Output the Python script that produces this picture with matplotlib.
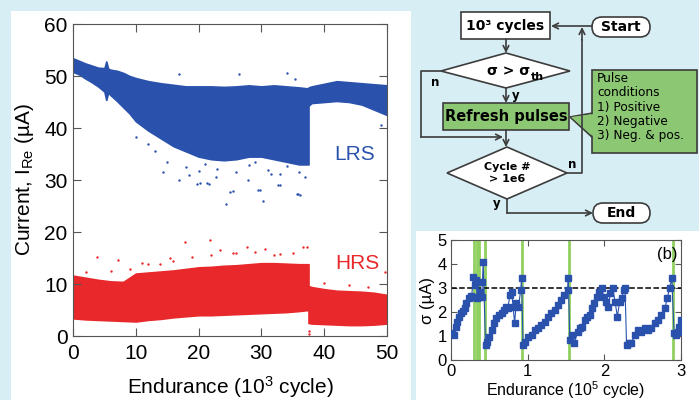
import matplotlib.pyplot as plt
from matplotlib.patches import Rectangle, Polygon, FancyBboxPatch

plt.rcParams['font.family'] = ['Liberation Sans', 'DejaVu Sans']
plt.rcParams['mathtext.default'] = 'regular'

# --- panel (a): LRS / HRS endurance band
lrs_x1 = [0, 1, 2, 3, 4, 5, 5.3, 5.6, 6, 7, 8, 9, 10, 12, 14, 16, 18, 20, 22, 24, 26, 28, 30, 32, 34, 36, 37.5]
lrs_hi1 = [53.4, 52.9, 52.4, 52.0, 51.6, 51.5, 52.8, 51.4, 51.2, 51.0, 50.6, 50.0, 49.6, 49.0, 48.6, 48.3, 48.0,
           48.0, 48.0, 47.9, 48.0, 48.2, 48.0, 48.2, 48.0, 47.8, 47.6]
lrs_lo1 = [50.8, 50.3, 49.5, 48.8, 48.0, 47.0, 45.4, 46.8, 46.3, 45.2, 44.0, 42.8, 41.3, 39.5, 38.0, 36.5, 35.5,
           34.5, 34.0, 33.8, 34.0, 34.5, 34.5, 34.0, 33.5, 33.0, 33.0]
lrs_x2 = [37.5, 38, 40, 42, 44, 46, 48, 50]
lrs_hi2 = [47.8, 48.0, 48.5, 49.0, 48.8, 48.6, 48.4, 48.2]
lrs_lo2 = [44.3, 44.8, 45.0, 45.2, 45.0, 44.5, 43.5, 42.5]

hrs_x1 = [0, 2, 4, 6, 8, 10, 12, 14, 16, 18, 20, 22, 24, 26, 28, 30, 32, 34, 36, 37.5]
hrs_hi1 = [11.6, 11.2, 10.8, 10.5, 10.4, 12.0, 12.2, 12.4, 12.6, 12.9, 13.2, 13.3, 13.5, 13.6, 13.8, 14.0, 14.0,
           13.9, 13.8, 13.8]
hrs_lo1 = [3.4, 3.2, 3.1, 3.0, 2.9, 2.8, 3.1, 3.3, 3.6, 3.8, 4.0, 4.0, 4.1, 4.2, 4.3, 4.4, 4.5, 4.6, 4.8, 5.0]
hrs_x2 = [37.5, 38, 40, 42, 44, 46, 48, 50]
hrs_hi2 = [9.6, 9.4, 9.0, 8.7, 8.6, 8.5, 8.3, 7.9]
hrs_lo2 = [2.5, 2.4, 2.3, 2.2, 2.1, 2.1, 2.2, 2.4]

lrs_out_x = [10.1, 14.4, 16.8, 19.7, 21.6, 24.4, 25.0, 25.5, 27.9, 29.5, 29.8, 30.2, 33.0, 32.7, 35.6, 35.9, 36.2,
             16.8, 26.4, 34.0, 35.4, 49.0, 18.5, 20.2, 21.3, 22.8, 31.5,
             18, 20, 23, 26, 28, 31, 33, 36, 37, 15, 13, 12, 21, 29, 34]
lrs_out_y = [38.3, 31.6, 30.0, 29.3, 29.3, 25.3, 27.6, 27.8, 30.0, 28.0, 28.1, 26.0, 29.0, 29.0, 27.4, 27.3, 27.1,
             50.4, 50.4, 50.5, 49.5, 40.5, 31.0, 29.4, 29.4, 30.5, 31.2,
             32.5, 31.8, 32.2, 31.5, 32.8, 32.0, 31.2, 31.5, 30.5, 33.5, 35.5, 37.0, 33.0, 33.5, 32.6]
hrs_out_x = [3.8, 7.2, 17.9, 21.8, 27.7, 30.6, 36.7, 13.9, 23.4, 49.7, 11.0, 15.5, 25.5, 33.0, 37.2, 37.5, 37.5,
             6, 9, 12, 16, 19, 22, 26, 29, 32, 35, 2, 40, 44, 47]
hrs_out_y = [15.2, 14.6, 18.1, 18.5, 17.1, 16.8, 17.1, 13.9, 16.5, 12.3, 14.0, 15.0, 16.0, 15.8, 17.2, 1.0, 0.3,
             12.5, 12.8, 13.8, 14.5, 15.2, 15.5, 16.0, 16.2, 15.6, 15.9, 12.3, 10.2, 9.8, 9.5]

# --- panel (b): sigma vs endurance
sig_x = [0.01, 0.04, 0.06, 0.08, 0.10, 0.13, 0.15, 0.18, 0.20, 0.23, 0.26, 0.27, 0.29, 0.31, 0.33, 0.34, 0.36,
         0.38, 0.40, 0.41, 0.42,
         0.45, 0.47, 0.50, 0.53, 0.56, 0.59, 0.62, 0.66, 0.69, 0.72, 0.74, 0.77, 0.79, 0.81, 0.83, 0.85, 0.88,
         0.91, 0.92,
         0.94, 0.97, 1.00, 1.05, 1.09, 1.13, 1.18, 1.22, 1.27, 1.31, 1.35, 1.40, 1.44, 1.48, 1.52, 1.53,
         1.55, 1.58, 1.61, 1.65, 1.68, 1.71, 1.75, 1.78, 1.81, 1.84, 1.87, 1.90, 1.93, 1.97, 1.99, 2.02, 2.05,
         2.08, 2.11, 2.14, 2.17, 2.20, 2.23, 2.25, 2.27,
         2.29, 2.32, 2.35, 2.40, 2.44, 2.48, 2.53, 2.57, 2.61, 2.66, 2.70, 2.74, 2.79, 2.82, 2.85, 2.88,
         2.91, 2.94, 2.96, 2.98, 3.00]
sig_y = [1.11, 1.04, 1.39, 1.57, 1.81, 1.94, 2.04, 2.18, 2.36, 2.57, 2.67, 2.64, 3.47, 3.12, 3.33, 2.57, 2.64,
         2.85, 2.64, 3.26, 4.10,
         0.62, 0.76, 0.97, 1.25, 1.53, 1.74, 1.88, 1.94, 2.08, 2.22, 2.15, 2.71, 2.85, 2.22, 1.53, 2.36, 2.22,
         2.92, 3.40,
         0.62, 0.76, 0.97, 1.04, 1.25, 1.32, 1.46, 1.60, 1.81, 1.94, 2.08, 2.29, 2.50, 2.71, 2.92, 3.40,
         0.83, 1.04, 0.69, 1.18, 1.32, 1.39, 1.67, 1.81, 1.88, 2.15, 2.36, 2.64, 2.85, 2.99, 2.64, 2.43, 2.22,
         2.78, 2.99, 2.43, 1.81, 2.43, 2.57, 2.92, 2.99,
         0.62, 0.69, 0.69, 1.04, 1.25, 1.18, 1.32, 1.25, 1.32, 1.53, 1.67, 1.88, 2.15, 2.57, 2.99, 3.40,
         1.11, 1.04, 1.18, 1.39, 1.67]
refresh_x = [0.30, 0.335, 0.37, 0.44, 0.93, 1.54, 2.90]
sigma_th = 3.0

bg_blue = '#d8eef5'
blue = '#2a52ad'
red = '#e8282a'
green = '#8cc873'
edge = '#3c3c3c'

fig = plt.figure(figsize=(6.99, 4.0), dpi=100)
fig.patch.set_facecolor(bg_blue)

# background layer in pixel coords (y down)
bg = fig.add_axes([0, 0, 1, 1])
bg.set_xlim(0, 699)
bg.set_ylim(400, 0)
bg.axis('off')
bg.set_zorder(-1)
bg.add_patch(Rectangle((11, 11), 400, 389, fc='white', ec='none'))
bg.add_patch(Rectangle((416, 231), 283, 169, fc='white', ec='none'))

# ---------------- flowchart
ff = 'DejaVu Sans'
lw = 1.2


def arrow(x0, y0, x1, y1):
    bg.annotate('', xy=(x1, y1), xytext=(x0, y0),
                arrowprops=dict(arrowstyle='->', lw=lw, color=edge, shrinkA=0, shrinkB=0,
                                mutation_scale=10))


bg.add_patch(Rectangle((461, 12), 89, 27, fc='white', ec=edge, lw=lw))
bg.text(505.5, 26, '10³ cycles', ha='center', va='center', fontsize=10, weight='bold', family=ff)
bg.add_patch(FancyBboxPatch((592, 17), 58, 20, boxstyle='round,pad=0,rounding_size=10',
                            fc='white', ec=edge, lw=lw))
bg.text(621, 27, 'Start', ha='center', va='center', fontsize=10, weight='bold', family=ff)
bg.add_patch(FancyBboxPatch((593, 203), 57, 20, boxstyle='round,pad=0,rounding_size=10',
                            fc='white', ec=edge, lw=lw))
bg.text(621.5, 213, 'End', ha='center', va='center', fontsize=10, weight='bold', family=ff)

bg.add_patch(Polygon([(441, 71), (506, 53), (570, 71), (506, 88)], closed=True, fc='white', ec=edge, lw=lw))
bg.text(509, 71, 'σ > σ', ha='center', va='center', fontsize=10, weight='bold', family=ff)
bg.text(531, 77, 'th', ha='left', va='center', fontsize=8, weight='bold', family=ff)

bg.add_patch(Rectangle((443, 103), 126, 27, fc=green, ec=edge, lw=lw))
bg.text(506, 117, 'Refresh pulses', ha='center', va='center', fontsize=10.5, weight='bold', family=ff)

bg.add_patch(Polygon([(447, 173), (507, 147), (567, 173), (507, 199)], closed=True, fc='white', ec=edge, lw=lw))
bg.text(507, 173, 'Cycle #\n> 1e6', ha='center', va='center', fontsize=8, weight='bold', family=ff,
        linespacing=1.3)

# callout
bg.add_patch(Polygon([(570, 117), (593, 113), (593, 138)], closed=True, fc=green, ec=edge, lw=lw))
bg.add_patch(Rectangle((592, 70), 105, 83, fc=green, ec=edge, lw=lw))
bg.add_patch(Polygon([(571, 117), (594, 114), (594, 137)], closed=True, fc=green, ec='none'))
bg.text(597, 107, 'Pulse\nconditions\n1) Positive\n2) Negative\n3) Neg. & pos.', ha='left', va='center',
        fontsize=8.7, family=ff, linespacing=1.15)

# connectors
arrow(592, 26, 551, 26)
arrow(506, 39, 506, 53)
arrow(506, 88, 506, 103)
bg.plot([441, 421, 421], [71, 71, 137], color=edge, lw=lw)
arrow(421, 137, 503, 137)
arrow(506, 130, 506, 147)
bg.plot([567, 582, 582], [173, 173, 40], color=edge, lw=lw)
arrow(582, 40, 582, 27)
bg.plot([507, 507], [199, 213], color=edge, lw=lw)
arrow(507, 213, 593, 213)
bg.text(512, 96, 'y', ha='left', va='center', fontsize=8.5, weight='bold', family=ff)
bg.text(435, 82, 'n', ha='center', va='center', fontsize=8.5, weight='bold', family=ff)
bg.text(572, 165, 'n', ha='center', va='center', fontsize=8.5, weight='bold', family=ff)
bg.text(497, 204, 'y', ha='center', va='center', fontsize=8.5, weight='bold', family=ff)

# ---------------- panel (a)
ax1 = fig.add_axes([73 / 699, 64 / 400, 314 / 699, 312 / 400])
ax1.fill_between(lrs_x1, lrs_lo1, lrs_hi1, color=blue, lw=1.2, ec=blue)
ax1.fill_between(lrs_x2, lrs_lo2, lrs_hi2, color=blue, lw=1.2, ec=blue)
ax1.fill_between(hrs_x1, hrs_lo1, hrs_hi1, color=red, lw=1.2, ec=red)
ax1.fill_between(hrs_x2, hrs_lo2, hrs_hi2, color=red, lw=1.2, ec=red)
ax1.scatter(lrs_out_x, lrs_out_y, s=3, color=blue, lw=0)
ax1.scatter(hrs_out_x, hrs_out_y, s=3, color=red, lw=0)
ax1.text(44.8, 35, 'LRS', color=blue, fontsize=15, ha='center', va='center')
ax1.text(45.3, 14, 'HRS', color=red, fontsize=15, ha='center', va='center')
ax1.set_xlim(0, 50)
ax1.set_ylim(0, 60)
ax1.set_xticks(range(0, 51, 10))
ax1.set_yticks(range(0, 61, 10))
ax1.tick_params(direction='in', length=6, top=True, right=True, labelsize=15, color='#555555')
ax1.tick_params(axis='y', pad=4)
ax1.tick_params(axis='x', pad=6)
for s in ax1.spines.values():
    s.set_color('#555555')
ax1.set_xlabel('Endurance (10$^3$ cycle)', fontsize=15, labelpad=8)
ax1.set_ylabel('Current, I$_{Re}$ (µA)', fontsize=15, labelpad=6)

# ---------------- panel (b)
ax2 = fig.add_axes([451 / 699, 40 / 400, 230 / 699, 120 / 400])
for xr in refresh_x:
    ax2.axvline(xr, color='#8fd060', lw=2, zorder=1)
ax2.axhline(sigma_th, color='black', ls='--', lw=1.1, zorder=2)
ax2.plot(sig_x, sig_y, '-s', color=blue, ms=3.8, lw=0.8, zorder=3)
ax2.text(2.95, 4.4, '(b)', fontsize=12, ha='right', va='center')
ax2.set_xlim(0, 3)
ax2.set_ylim(0, 5)
ax2.set_xticks([0, 1, 2, 3])
ax2.set_yticks(range(0, 6))
ax2.tick_params(direction='in', length=4, top=True, right=True, labelsize=12, color='#555555')
ax2.tick_params(axis='x', pad=3)
ax2.tick_params(axis='y', pad=3)
for s in ax2.spines.values():
    s.set_color('#555555')
ax2.set_xlabel('Endurance (10$^5$ cycle)', fontsize=11.5, labelpad=0)
ax2.set_ylabel('σ (µA)', fontsize=12, labelpad=2)

fig.savefig('out.png', dpi=100, facecolor=fig.get_facecolor())
